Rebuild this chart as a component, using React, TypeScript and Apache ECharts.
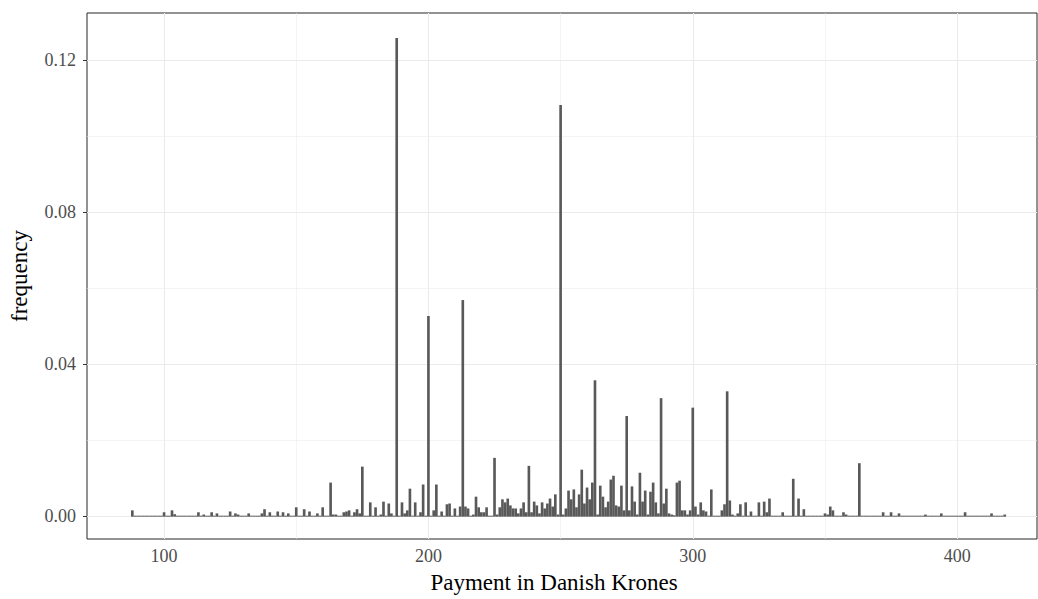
import React, { useEffect, useRef } from "react";
import * as echarts from "echarts";

// Bin centres (Danish Krones, bin width 1) that carry a non-zero frequency
const binCenters = [
  88, 100, 103, 104, 113, 115, 118, 120, 125, 127, 128, 132, 137, 138, 140, 143, 145, 147,
  150, 153, 155, 158, 160, 163, 164, 165, 168, 169, 170, 172, 173, 174, 175, 178, 180, 182,
  183, 185, 186, 188, 190, 191, 192, 193, 195, 197, 198, 200, 202, 203, 205, 207, 208, 210,
  212, 213, 214, 215, 217, 218, 219, 220, 221, 222, 225, 226, 227, 228, 229, 230, 231, 232,
  233, 234, 235, 236, 237, 238, 239, 240, 241, 242, 243, 244, 245, 246, 247, 248, 249, 250,
  251, 252, 253, 254, 255, 256, 257, 258, 259, 260, 261, 262, 263, 264, 265, 266, 267, 268,
  269, 270, 271, 272, 273, 274, 275, 276, 277, 278, 279, 280, 281, 282, 283, 284, 285, 286,
  287, 288, 289, 290, 291, 292, 293, 294, 295, 296, 297, 298, 299, 300, 301, 302, 303, 304,
  305, 307, 311, 312, 313, 314, 315, 317, 318, 320, 322, 325, 327, 328, 329, 334, 338, 340,
  342, 350, 351, 352, 353, 357, 358, 363, 372, 375, 378, 388, 394, 403, 413, 418,
];

const frequencies = [
  0.0014, 0.0009, 0.0014, 0.0004, 0.0009, 0.0003, 0.0009, 0.0006, 0.0011, 0.0006, 0.0003, 0.0006, 0.0006, 0.0017, 0.0009, 0.0011, 0.0009, 0.0006,
  0.0022, 0.0017, 0.0011, 0.0006, 0.0022, 0.0087, 0.0003, 0.0003, 0.0009, 0.0011, 0.0014, 0.0009, 0.0017, 0.0006, 0.0129, 0.0035, 0.0022, 0.0003,
  0.0037, 0.0032, 0.0006, 0.1256, 0.0035, 0.0006, 0.0014, 0.0071, 0.0035, 0.0009, 0.0082, 0.0525, 0.0014, 0.0082, 0.0011, 0.0030, 0.0032, 0.0019,
  0.0024, 0.0567, 0.0024, 0.0019, 0.0003, 0.0050, 0.0022, 0.0009, 0.0009, 0.0022, 0.0152, 0.0003, 0.0022, 0.0043, 0.0035, 0.0045, 0.0027, 0.0019,
  0.0019, 0.0006, 0.0019, 0.0035, 0.0009, 0.0131, 0.0009, 0.0037, 0.0027, 0.0006, 0.0035, 0.0019, 0.0032, 0.0045, 0.0024, 0.0056, 0.0003, 0.1080,
  0.0003, 0.0019, 0.0066, 0.0043, 0.0069, 0.0022, 0.0056, 0.0121, 0.0032, 0.0074, 0.0043, 0.0087, 0.0356, 0.0003, 0.0079, 0.0050, 0.0022, 0.0037,
  0.0095, 0.0105, 0.0027, 0.0024, 0.0079, 0.0014, 0.0262, 0.0014, 0.0077, 0.0037, 0.0003, 0.0113, 0.0037, 0.0066, 0.0003, 0.0063, 0.0087, 0.0035,
  0.0006, 0.0309, 0.0032, 0.0071, 0.0006, 0.0003, 0.0001, 0.0087, 0.0092, 0.0014, 0.0014, 0.0003, 0.0014, 0.0284, 0.0024, 0.0003, 0.0035, 0.0014,
  0.0011, 0.0069, 0.0014, 0.0030, 0.0327, 0.0040, 0.0003, 0.0006, 0.0030, 0.0035, 0.0011, 0.0035, 0.0037, 0.0009, 0.0045, 0.0009, 0.0097, 0.0045,
  0.0017, 0.0006, 0.0003, 0.0024, 0.0014, 0.0009, 0.0003, 0.0138, 0.0009, 0.0009, 0.0006, 0.0003, 0.0006, 0.0009, 0.0006, 0.0003,
];

const binRange = [88, 418];
const binWidth = 1;
const xMajorTicks = [100, 200, 300, 400];
const xMinorTicks = [150, 250, 350];
const yMajorTicks = [0, 0.04, 0.08, 0.12];
const yMinorTicks = [0.02, 0.06, 0.1];
const xLimits = [70.85, 430.2];
const yLimits = [-0.006, 0.1323];
const xTitle = "Payment in Danish Krones";
const yTitle = "frequency";

const FONT = "'Liberation Serif', 'Times New Roman', serif";
const BAR = "#595959";
const GRID = "#EBEBEB";

export default function App() {
  const ref = useRef<HTMLDivElement>(null);

  useEffect(() => {
    if (!ref.current) return;
    const chart = echarts.init(ref.current, null, { renderer: "svg" });

    const lookup = new Map<number, number>();
    binCenters.forEach((c, i) => lookup.set(c, frequencies[i]));
    const data: number[][] = [];
    for (let x = binRange[0]; x <= binRange[1]; x += binWidth) {
      data.push([x, lookup.get(x) ?? 0]);
    }

    const gridLines = [
      ...xMajorTicks.map((v) => ({ xAxis: v, lineStyle: { color: GRID, width: 1.1, type: "solid" } })),
      ...xMinorTicks.map((v) => ({ xAxis: v, lineStyle: { color: GRID, width: 0.55, type: "solid" } })),
      ...yMajorTicks.map((v) => ({ yAxis: v, lineStyle: { color: GRID, width: 1.1, type: "solid" } })),
      ...yMinorTicks.map((v) => ({ yAxis: v, lineStyle: { color: GRID, width: 0.55, type: "solid" } })),
    ];

    chart.setOption({
      animation: false,
      backgroundColor: "#FFFFFF",
      grid: {
        left: 84,
        right: 1,
        top: 13,
        bottom: 57,
        show: true,
        borderColor: "#262626",
        borderWidth: 1,
        backgroundColor: "transparent",
      },
      xAxis: {
        type: "value",
        min: xLimits[0],
        max: xLimits[1],
        axisLine: { show: false },
        splitLine: { show: false },
        axisTick: {
          show: true,
          customValues: xMajorTicks,
          length: 4,
          lineStyle: { color: "#333333", width: 1 },
        },
        axisLabel: {
          customValues: xMajorTicks,
          color: "#4D4D4D",
          fontFamily: FONT,
          fontSize: 18,
          margin: 8,
        },
        name: xTitle,
        nameLocation: "middle",
        nameGap: 32,
        nameTextStyle: { color: "#000000", fontFamily: FONT, fontSize: 23, padding: [0, 16, 0, 0] },
      },
      yAxis: {
        type: "value",
        min: yLimits[0],
        max: yLimits[1],
        axisLine: { show: false },
        splitLine: { show: false },
        axisTick: {
          show: true,
          customValues: yMajorTicks,
          length: 4,
          lineStyle: { color: "#333333", width: 1 },
        },
        axisLabel: {
          customValues: yMajorTicks,
          color: "#4D4D4D",
          fontFamily: FONT,
          fontSize: 18,
          margin: 11,
          formatter: (v: number) => v.toFixed(2),
        },
        name: yTitle,
        nameLocation: "middle",
        nameGap: 56,
        nameTextStyle: { color: "#000000", fontFamily: FONT, fontSize: 23 },
      },
      series: [
        {
          type: "custom",
          name: "frequency",
          z: 3,
          clip: true,
          encode: { x: 0, y: 1 },
          data,
          renderItem: (_params: any, api: any) => {
            const x = api.value(0);
            const y = api.value(1);
            const p0 = api.coord([x - binWidth / 2, 0]);
            const p1 = api.coord([x + binWidth / 2, y]);
            const h = p0[1] - p1[1];
            return {
              type: "rect",
              shape: { x: p0[0], y: p1[1] - 0.5, width: p1[0] - p0[0], height: h + 1 },
              style: { fill: BAR, stroke: null },
            };
          },
          markLine: {
            silent: true,
            z: 1,
            symbol: ["none", "none"],
            label: { show: false },
            emphasis: { disabled: true },
            data: gridLines,
          },
        },
      ],
    });

    return () => chart.dispose();
  }, []);

  return (
    <div
      ref={ref}
      style={{ position: "absolute", left: 0, top: 0, width: 1038, height: 599 }}
    />
  );
}
